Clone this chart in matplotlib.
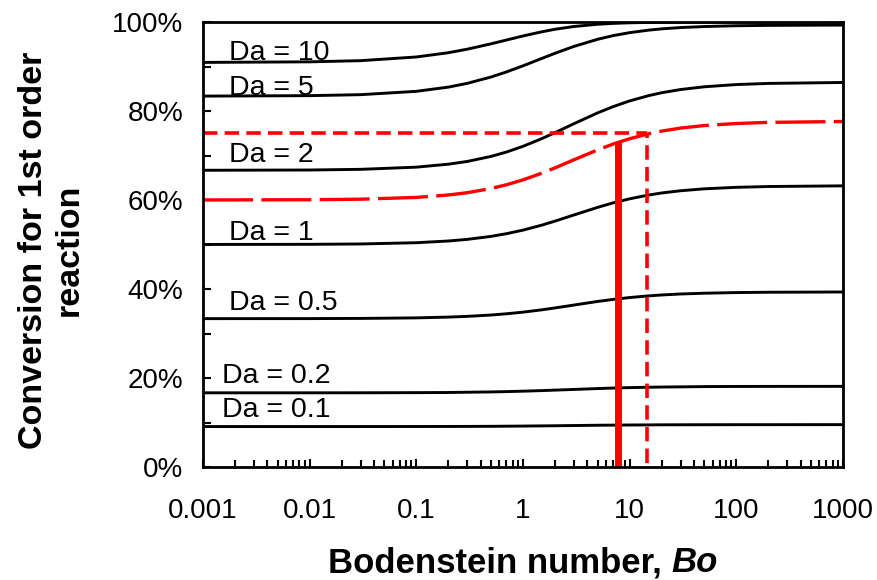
import matplotlib
matplotlib.use("Agg")
import matplotlib.pyplot as plt
from matplotlib.ticker import LogLocator, FixedLocator, PercentFormatter, NullFormatter

plt.rcParams["font.family"] = ["Liberation Sans", "DejaVu Sans"]

# Bodenstein numbers where the curves were read
bo = [0.001, 0.01, 0.03, 0.1, 0.2, 0.3, 0.5, 0.7, 1, 1.5, 2, 3, 5, 7, 10, 15, 20, 30, 50, 100, 200, 1000]

# conversion (fraction) for each Damkohler number
conv_da10 = [0.9092, 0.9105, 0.9131, 0.9214, 0.9310, 0.9389, 0.9509, 0.9595, 0.9686, 0.9780, 0.9837,
             0.9899, 0.9949, 0.9969, 0.9982, 0.9991, 0.9994, 0.9997, 0.9998, 0.9999, 0.9999, 1.0000]
conv_da5 = [0.8335, 0.8345, 0.8367, 0.8442, 0.8537, 0.8621, 0.8763, 0.8878, 0.9015, 0.9181, 0.9298,
            0.9451, 0.9611, 0.9694, 0.9761, 0.9817, 0.9846, 0.9875, 0.9898, 0.9916, 0.9924, 0.9931]
conv_da2 = [0.6668, 0.6674, 0.6689, 0.6738, 0.6805, 0.6866, 0.6979, 0.7078, 0.7206, 0.7379, 0.7514,
            0.7714, 0.7957, 0.8098, 0.8227, 0.8344, 0.8411, 0.8482, 0.8544, 0.8594, 0.8620, 0.8641]
conv_da15 = [0.6001, 0.6006, 0.6018, 0.6058, 0.6113, 0.6164, 0.6258, 0.6342, 0.6452, 0.6603, 0.6723,
             0.6903, 0.7126, 0.7257, 0.7377, 0.7487, 0.7549, 0.7616, 0.7673, 0.7719, 0.7744, 0.7764]
conv_da1 = [0.5001, 0.5004, 0.5012, 0.5040, 0.5079, 0.5115, 0.5182, 0.5243, 0.5323, 0.5435, 0.5526,
            0.5663, 0.5834, 0.5936, 0.6027, 0.6111, 0.6158, 0.6208, 0.6251, 0.6285, 0.6303, 0.6318]
conv_da05 = [0.3334, 0.3335, 0.3339, 0.3351, 0.3369, 0.3385, 0.3415, 0.3443, 0.3480, 0.3532, 0.3575,
             0.3639, 0.3720, 0.3766, 0.3808, 0.3845, 0.3866, 0.3888, 0.3905, 0.3920, 0.3927, 0.3933]
conv_da02 = [0.1667, 0.1667, 0.1668, 0.1671, 0.1674, 0.1680, 0.1687, 0.1694, 0.1704, 0.1717, 0.1728,
             0.1743, 0.1763, 0.1774, 0.1784, 0.1792, 0.1797, 0.1801, 0.1807, 0.1810, 0.1811, 0.1812]
conv_da01 = [0.0909, 0.0909, 0.0909, 0.0910, 0.0911, 0.0912, 0.0914, 0.0917, 0.0920, 0.0924, 0.0927,
             0.0932, 0.0938, 0.0941, 0.0944, 0.0946, 0.0948, 0.0949, 0.0950, 0.0951, 0.0951, 0.0952]

black_curves = [conv_da10, conv_da5, conv_da2, conv_da1, conv_da05, conv_da02, conv_da01]
curve_labels = ["Da = 10", "Da = 5", "Da = 2", "Da = 1", "Da = 0.5", "Da = 0.2", "Da = 0.1"]
label_bo = [0.00175, 0.00175, 0.00175, 0.00175, 0.00175, 0.0015, 0.0015]
label_conv = [0.914, 0.835, 0.685, 0.510, 0.353, 0.188, 0.112]

# red read-off lines
bo_operating = 7.8
conv_operating = 0.73
bo_target = 14.5
conv_target = 0.75

fig = plt.figure(figsize=(8.78, 5.8), dpi=100)
ax = fig.add_axes([203 / 878, 1 - 467 / 580, 640 / 878, 445 / 580])

for conv in black_curves:
    ax.plot(bo, conv, color="black", lw=2.1, solid_capstyle="butt")

ax.plot(bo, conv_da15, color="red", lw=2.4, dashes=(15, 2.5))

ax.plot([0.001, bo_target], [conv_target, conv_target], color="red", lw=2.6, dashes=(4, 2))
ax.plot([bo_target, bo_target], [0.01, conv_target], color="red", lw=2.6, dashes=(4, 2))
ax.plot([bo_operating, bo_operating], [0, conv_operating], color="red", lw=5, solid_capstyle="butt")

for lab, lx, ly in zip(curve_labels, label_bo, label_conv):
    ax.text(lx, ly, lab, fontsize=20.5, ha="left", va="baseline")

ax.set_xscale("log")
ax.set_xlim(0.001, 1000)
ax.set_ylim(0, 1)

ax.xaxis.set_major_locator(FixedLocator([0.001, 0.01, 0.1, 1, 10, 100, 1000]))
ax.set_xticklabels(["0.001", "0.01", "0.1", "1", "10", "100", "1000"])
ax.xaxis.set_minor_locator(LogLocator(base=10, subs=[2, 3, 4, 5, 6, 7, 8, 9], numticks=20))
ax.xaxis.set_minor_formatter(NullFormatter())
ax.yaxis.set_major_locator(FixedLocator([0, 0.2, 0.4, 0.6, 0.8, 1.0]))
ax.yaxis.set_minor_locator(FixedLocator([0.1, 0.3, 0.5, 0.7, 0.9]))
ax.yaxis.set_major_formatter(PercentFormatter(1.0, decimals=0))

ax.tick_params(axis="x", which="major", direction="in", length=6, width=1.5, labelsize=20, pad=22)
ax.tick_params(axis="x", which="minor", direction="in", length=5, width=1.5)
ax.tick_params(axis="y", which="both", direction="in", length=6, width=1.5, labelsize=20, pad=14)

for sp in ax.spines.values():
    sp.set_linewidth(2.0)

ax.set_ylabel("Conversion for 1st order\nreaction", fontsize=24.5, fontweight="bold", va="center", linespacing=1.2)
ax.yaxis.set_label_coords(-0.2375, 0.488)

fig.text(662 / 878, 1 - 572 / 580, "Bodenstein number,", fontsize=25, fontweight="bold", ha="right", va="baseline")
fig.text(671 / 878, 1 - 572 / 580, "Bo", fontsize=25, fontweight="bold", fontstyle="italic", ha="left", va="baseline")

fig.savefig("out.png", dpi=100)
